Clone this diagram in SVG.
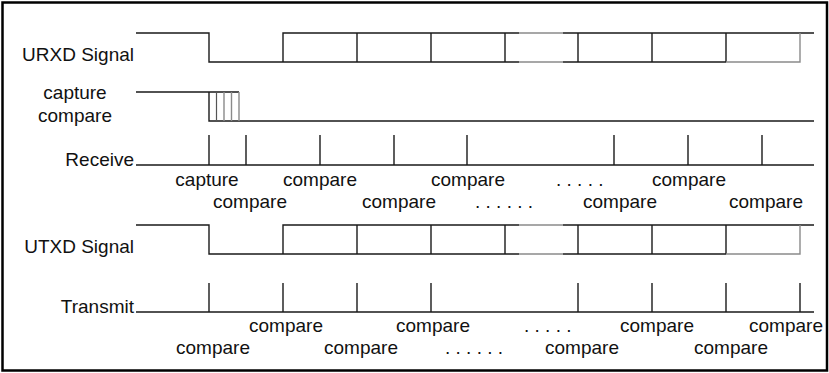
<svg xmlns="http://www.w3.org/2000/svg" width="829" height="373" viewBox="0 0 829 373">
  <style>
    text { font-family: "Liberation Sans", Arial, Helvetica, sans-serif; font-size: 19px; fill: #111; }
    .mid { text-anchor: middle; }
    .end { text-anchor: end; }
    .w { fill: none; stroke: #1a1a1a; stroke-width: 1.4; }
    .g { fill: none; stroke: #8a8a8a; stroke-width: 1.4; }
    .g2 { fill: none; stroke: #555; stroke-width: 1.2; }
  </style>

  <!-- outer frame -->
  <rect x="2.5" y="2.5" width="824.5" height="368" fill="#fff" stroke="#000" stroke-width="2.5"/>

  <!-- receive data line -->
  <g id="urxd">
    <text class="end" x="134" y="61">URXD Signal</text>
    <path class="w" d="M136,33 H209 V62 H519 M563,62 H726 M209,62 V62"/>
    <path class="w" d="M283,62 V33 H519 M563,33 H814 M357,33 V62 M431,33 V62 M505,33 V62 M578,33 V62 M652,33 V62 M726,33 V62"/>
    <path class="g" d="M519,33 H563 M519,62 H563 M726,62 H800 V33"/>
  </g>

  <!-- capture/compare channel -->
  <g id="capture-compare">
    <text class="mid" x="75" y="99">capture</text>
    <text class="mid" x="75" y="122">compare</text>
    <path class="w" d="M136,92 H239 M209,92 V121 H814"/>
    <path class="g2" d="M216.5,92 V121"/>
    <path class="g" d="M224,92 V121 M231.5,92 V121 M239,92 V121"/>
  </g>

  <!-- receive sampling events -->
  <g id="receive">
    <text class="end" x="134" y="166">Receive</text>
    <path class="w" d="M136,165 H814 M209,135 V165 M246,135 V165 M320,135 V165 M394,135 V165 M467,135 V165 M614,135 V165 M688,135 V165 M762,135 V165"/>
    <text class="mid" x="207" y="186">capture</text>
    <text class="mid" x="320" y="186">compare</text>
    <text class="mid" x="468" y="186">compare</text>
    <text x="556" y="186">. . . . .</text>
    <text class="mid" x="689" y="186">compare</text>
    <text class="mid" x="250" y="208">compare</text>
    <text class="mid" x="399" y="208">compare</text>
    <text x="475" y="208">. . . . . .</text>
    <text class="mid" x="620" y="208">compare</text>
    <text class="mid" x="766" y="208">compare</text>
  </g>

  <!-- transmit data line -->
  <g id="utxd">
    <text class="end" x="134" y="253">UTXD Signal</text>
    <path class="w" d="M136,225 H209 V254 H519 M563,254 H726"/>
    <path class="w" d="M283,254 V225 H519 M563,225 H814 M357,225 V254 M431,225 V254 M505,225 V254 M578,225 V254 M652,225 V254 M726,225 V254"/>
    <path class="g" d="M519,225 H563 M519,254 H563 M726,254 H800 V225"/>
  </g>

  <!-- transmit compare events -->
  <g id="transmit">
    <text class="end" x="134" y="313">Transmit</text>
    <path class="w" d="M136,312 H814 M209,283 V312 M283,283 V312 M357,283 V312 M431,283 V312 M578,283 V312 M652,283 V312 M726,283 V312 M800,283 V312"/>
    <text class="mid" x="286" y="332">compare</text>
    <text class="mid" x="433" y="332">compare</text>
    <text x="524" y="332">. . . . .</text>
    <text class="mid" x="657" y="332">compare</text>
    <text class="mid" x="786" y="332">compare</text>
    <text class="mid" x="213" y="354">compare</text>
    <text class="mid" x="361" y="354">compare</text>
    <text x="445" y="354">. . . . . .</text>
    <text class="mid" x="582" y="354">compare</text>
    <text class="mid" x="731" y="354">compare</text>
  </g>
</svg>
